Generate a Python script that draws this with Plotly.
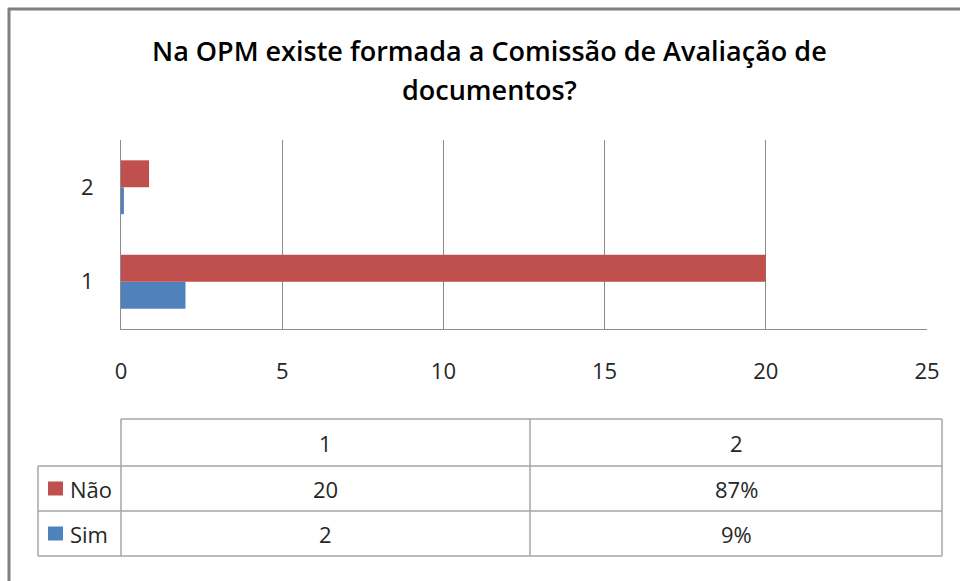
import plotly.graph_objects as go

# ---- data ----
categories = ["1", "2"]
series_names = ["Sim", "Não"]
sim_values = [2, 0.09]
nao_values = [20, 0.87]
table_header = ["1", "2"]
table_nao = ["20", "87%"]
table_sim = ["2", "9%"]
title_lines = ["Na OPM existe formada a Comissão de Avaliação de", "documentos?"]
x_ticks = [0, 5, 10, 15, 20, 25]

W, H = 960, 581
RED = "#C0504D"
BLUE = "#4F81BD"
GRID = "#8C8C8C"
TXT = "#262626"
FONT = "Open Sans"


def px(x):
    return x / W


def py(y):
    return 1 - y / H


fig = go.Figure()
fig.add_trace(go.Bar(name=series_names[0], y=categories, x=sim_values, orientation="h",
                     marker=dict(color=BLUE, line=dict(width=0))))
fig.add_trace(go.Bar(name=series_names[1], y=categories, x=nao_values, orientation="h",
                     marker=dict(color=RED, line=dict(width=0))))

shapes = []
annotations = []

# outer border (top and left)
shapes.append(dict(type="line", xref="paper", yref="paper", x0=px(8), x1=px(962), y0=py(9), y1=py(9),
                   line=dict(color="#7F7F7F", width=3)))
shapes.append(dict(type="line", xref="paper", yref="paper", x0=px(9), x1=px(9), y0=py(8), y1=py(590),
                   line=dict(color="#7F7F7F", width=3)))

# data table
tl = dict(color="#A6A6A6", width=1.5)
col_x = [38, 121, 530, 942]
row_y = [419, 466, 511, 556]
shapes.append(dict(type="line", xref="paper", yref="paper", x0=px(121), x1=px(942), y0=py(419), y1=py(419), line=tl))
for yy in row_y[1:]:
    shapes.append(dict(type="line", xref="paper", yref="paper", x0=px(38), x1=px(942), y0=py(yy), y1=py(yy), line=tl))
shapes.append(dict(type="line", xref="paper", yref="paper", x0=px(38), x1=px(38), y0=py(466), y1=py(556), line=tl))
for xx in col_x[1:]:
    shapes.append(dict(type="line", xref="paper", yref="paper", x0=px(xx), x1=px(xx), y0=py(419), y1=py(556), line=tl))

cell_font = dict(family=FONT, size=22, color=TXT)
col_centers = [(col_x[1] + col_x[2]) / 2, (col_x[2] + col_x[3]) / 2]
row_centers = [(row_y[i] + row_y[i + 1]) / 2 for i in range(3)]
for r, row in enumerate([table_header, table_nao, table_sim]):
    for j, v in enumerate(row):
        annotations.append(dict(text=v, x=px(col_centers[j]), y=py(row_centers[r]), xref="paper", yref="paper",
                                showarrow=False, font=cell_font, xanchor="center", yanchor="middle"))

# legend keys in table
for name, color, yc in [(series_names[1], RED, row_centers[1]), (series_names[0], BLUE, row_centers[2])]:
    shapes.append(dict(type="rect", xref="paper", yref="paper", x0=px(48), x1=px(63),
                       y0=py(yc - 7), y1=py(yc + 7), fillcolor=color, line=dict(width=0)))
    annotations.append(dict(text=name, x=px(68), y=py(yc), xref="paper", yref="paper", showarrow=False,
                            font=cell_font, xanchor="left", yanchor="middle"))

# title (two lines)
for line_text, yc in zip(title_lines, [50, 90]):
    annotations.append(dict(text=line_text, x=px(489), y=py(yc), xref="paper", yref="paper",
                            showarrow=False, xanchor="center", yanchor="middle",
                            font=dict(family=FONT, size=27, color="#000000", weight=600)))

fig.update_layout(
    width=W, height=H,
    margin=dict(l=0, r=0, t=0, b=0, autoexpand=False),
    paper_bgcolor="white", plot_bgcolor="white",
    barmode="group", bargap=0.43, bargroupgap=0,
    showlegend=False,
    shapes=shapes, annotations=annotations,
    xaxis=dict(domain=[px(121), px(927)], range=[0, 25], tickvals=x_ticks, showgrid=True, gridcolor=GRID,
               gridwidth=1, zeroline=False, showline=True, linecolor=GRID, linewidth=1, automargin=False,
               ticks="", ticklabelstandoff=23, tickfont=dict(family=FONT, size=22, color=TXT), fixedrange=True),
    yaxis=dict(domain=[py(329), py(140)], type="category", showgrid=False, zeroline=False, automargin=False,
               showline=True, linecolor=GRID, linewidth=1, ticks="", ticklabelstandoff=22,
               tickfont=dict(family=FONT, size=22, color=TXT), fixedrange=True),
)

fig.write_html("out.html", config={"displayModeBar": False},
               post_script="document.body.style.margin='0';document.body.style.overflow='hidden';")
